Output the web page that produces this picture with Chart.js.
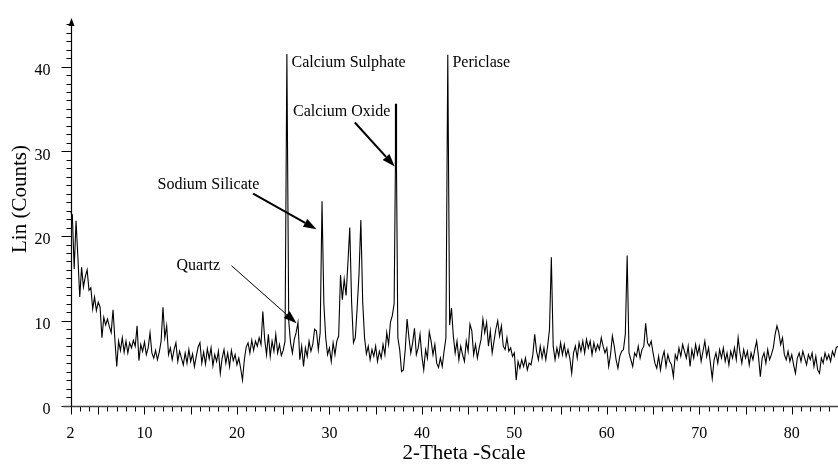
<!DOCTYPE html>
<html>
<head>
<meta charset="utf-8">
<script src="https://cdn.jsdelivr.net/npm/chart.js@4.4.1/dist/chart.umd.min.js"></script>
<style>
html,body{margin:0;padding:0;background:#fff}
#wrap{position:relative;width:838px;height:464px}
</style>
</head>
<body>
<div id="wrap"><canvas id="xrd"></canvas></div>
<script>
// scan grid: 2 to 85 degrees 2-theta, one reading every 0.2 deg
const angleStart = 2;
const angleStep = 0.2;

// counts, one row per degree (x.0, x.2, x.4, x.6, x.8)
const counts = [
  22.8, 22.5, 16.1, 21.8, 17.5,   // 2
  12.8, 16.3, 14.0, 15.2, 16.0,   // 3
  13.6, 13.9, 11.4, 12.8, 11.2,   // 4
  12.2, 11.6, 8.0, 10.4, 9.5,     // 5
  10.2, 9.3, 8.6, 11.3, 7.8,      // 6
  4.6, 7.6, 6.5, 8.0, 6.3,        // 7
  7.6, 6.2, 7.4, 6.8, 7.7,        // 8
  7.0, 9.4, 5.3, 7.2, 6.4,        // 9
  7.5, 6.0, 6.8, 8.6, 6.2,        // 10
  5.6, 6.5, 5.4, 6.3, 7.6,        // 11
  11.6, 8.0, 9.4, 6.0, 6.8,       // 12
  5.4, 6.6, 7.4, 5.2, 6.4,        // 13
  5.6, 4.8, 6.2, 5.0, 6.6,        // 14
  5.2, 6.1, 4.6, 5.8, 6.9,        // 15
  7.4, 5.0, 6.3, 4.9, 6.7,        // 16
  5.5, 6.8, 4.7, 6.0, 5.2,        // 17
  6.4, 3.8, 5.6, 6.6, 5.0,        // 18
  6.2, 4.6, 6.5, 5.3, 6.0,        // 19
  4.8, 5.6, 4.4, 3.0, 5.4,        // 20
  6.9, 7.4, 6.2, 7.7, 6.5,        // 21
  7.6, 7.0, 8.0, 7.2, 11.1,       // 22
  7.8, 6.0, 8.4, 5.8, 7.6,        // 23
  6.4, 8.4, 6.2, 7.2, 5.9,        // 24
  6.5, 7.6, 41.5, 10.0, 7.4,      // 25
  6.2, 7.8, 8.6, 9.8, 5.4,        // 26
  7.0, 4.6, 6.8, 5.8, 7.6,        // 27
  6.4, 7.2, 9.0, 8.8, 6.6,        // 28
  8.6, 24.1, 12.0, 8.0, 6.0,      // 29
  6.8, 5.2, 7.4, 6.0, 7.6,        // 30
  8.2, 15.4, 12.5, 14.9, 13.0,    // 31
  16.8, 21.0, 12.2, 7.4, 8.0,     // 32
  11.5, 15.5, 21.9, 12.2, 8.0,    // 33
  6.1, 7.0, 5.4, 6.6, 5.8,        // 34
  7.0, 5.2, 6.4, 5.6, 7.2,        // 35
  6.0, 8.6, 7.2, 9.8, 10.6,       // 36
  12.0, 35.6, 8.0, 6.6, 4.0,      // 37
  4.2, 6.6, 10.2, 8.0, 6.2,       // 38
  7.4, 9.1, 6.0, 6.8, 8.4,        // 39
  5.8, 4.2, 6.6, 5.6, 8.7,        // 40
  7.6, 6.0, 7.2, 5.0, 4.5,        // 41
  5.6, 4.6, 6.4, 8.0, 41.4,       // 42
  9.5, 11.5, 8.2, 6.2, 7.6,       // 43
  5.4, 7.0, 6.0, 5.2, 7.6,        // 44
  6.4, 9.6, 8.8, 6.0, 7.2,        // 45
  5.6, 6.8, 7.8, 10.2, 8.6,       // 46
  9.8, 7.0, 8.8, 6.2, 7.6,        // 47
  9.0, 10.0, 8.2, 9.4, 7.0,       // 48
  6.6, 8.0, 6.4, 6.8, 5.8,        // 49
  6.2, 3.0, 5.2, 4.4, 5.4,        // 50
  4.6, 5.6, 4.2, 5.0, 4.8,        // 51
  6.0, 8.4, 6.4, 5.4, 7.0,        // 52
  5.6, 6.8, 5.4, 7.0, 9.0,        // 53
  17.5, 7.0, 5.4, 6.8, 5.8,       // 54
  7.4, 6.0, 7.2, 5.8, 6.6,        // 55
  5.6, 3.8, 6.2, 7.0, 5.6,        // 56
  7.4, 6.4, 7.6, 6.2, 7.8,        // 57
  6.8, 7.6, 6.0, 7.4, 6.4,        // 58
  7.2, 6.6, 8.0, 7.0, 6.2,        // 59
  6.8, 4.6, 6.0, 8.2, 7.0,        // 60
  5.4, 4.4, 5.8, 6.4, 6.6,        // 61
  8.4, 17.7, 6.2, 5.4, 4.6,       // 62
  6.2, 5.8, 7.0, 5.6, 6.6,        // 63
  7.0, 9.7, 7.4, 7.0, 7.6,        // 64
  6.2, 5.0, 4.4, 5.8, 4.2,        // 65
  5.6, 6.4, 4.6, 6.0, 5.2,        // 66
  4.8, 3.4, 6.0, 5.4, 6.8,        // 67
  5.8, 7.2, 6.4, 5.6, 7.0,        // 68
  4.6, 6.6, 5.6, 7.2, 6.0,        // 69
  7.0, 5.2, 6.4, 7.6, 5.8,        // 70
  6.8, 5.0, 3.2, 5.4, 6.2,        // 71
  5.0, 6.6, 5.6, 6.8, 5.2,        // 72
  6.2, 4.8, 6.4, 5.6, 6.8,        // 73
  5.4, 8.0, 6.2, 5.0, 6.6,        // 74
  5.6, 6.4, 4.8, 6.2, 5.4,        // 75
  6.6, 7.6, 5.8, 3.4, 5.6,        // 76
  6.2, 5.0, 6.6, 5.4, 6.0,        // 77
  6.8, 8.4, 9.4, 8.6, 7.2,        // 78
  8.0, 6.0, 5.4, 6.4, 5.2,        // 79
  6.0, 4.8, 3.8, 5.6, 6.2,        // 80
  5.2, 6.4, 5.6, 4.8, 6.0,        // 81
  5.4, 6.2, 4.6, 5.8, 4.2,        // 82
  3.8, 5.6, 5.0, 6.2, 5.4,        // 83
  6.0, 5.2, 6.4, 5.8, 6.8,        // 84
  7.0                             // 85
];

const xTickValues = [2, 10, 20, 30, 40, 50, 60, 70, 80];
const yTickValues = [0, 10, 20, 30, 40];

// phase labels, anchored in data units (left edge, middle of text)
const phaseNames = ['Calcium Sulphate', 'Calcium Oxide', 'Periclase', 'Sodium Silicate', 'Quartz'];
const phaseX = [25.9, 26.07, 43.3, 11.41, 13.46];
const phaseY = [40.5, 34.7, 40.5, 26.1, 16.5];

// pointer arrows: from [x, y] to [x, y], in data units
const arrowFrom = [[32.75, 33.4], [21.75, 25.0], [19.41, 16.5]];
const arrowTo   = [[37.07, 28.2], [28.6, 20.8], [26.44, 9.7]];
const arrowWidth = [2, 2, 1];

const points = counts.map((c, i) => ({ x: +(angleStart + i * angleStep).toFixed(1), y: c }));

const SERIF = '"Liberation Serif", "DejaVu Serif", serif';

function drawArrow(ctx, x1, y1, x2, y2, w) {
  const ang = Math.atan2(y2 - y1, x2 - x1);
  const head = 13, half = 4.5;
  const bx = x2 - head * Math.cos(ang), by = y2 - head * Math.sin(ang);
  ctx.lineWidth = w;
  ctx.beginPath(); ctx.moveTo(x1, y1); ctx.lineTo(bx, by); ctx.stroke();
  ctx.beginPath();
  ctx.moveTo(x2, y2);
  ctx.lineTo(bx + half * Math.sin(ang), by - half * Math.cos(ang));
  ctx.lineTo(bx - half * Math.sin(ang), by + half * Math.cos(ang));
  ctx.closePath(); ctx.fill();
}

const decor = {
  id: 'decor',
  afterDraw(chart) {
    const { ctx, chartArea: a, scales: { x, y } } = chart;
    ctx.save();
    ctx.strokeStyle = '#000';
    ctx.fillStyle = '#000';
    ctx.lineWidth = 1;
    const ax = Math.round(a.left) + 0.5;
    const ay = Math.round(a.bottom) + 0.5;

    // y ticks, one per count, long ones at the labels
    for (let v = 0; v <= 45; v++) {
      const py = Math.round(y.getPixelForValue(v)) + 0.5;
      const len = v % 10 === 0 ? 10 : 5;
      ctx.beginPath(); ctx.moveTo(ax - len, py); ctx.lineTo(ax, py); ctx.stroke();
    }
    // x ticks, one per degree, long every 5
    for (let v = 2; v <= 85; v++) {
      const px = Math.round(x.getPixelForValue(v)) + 0.5;
      const len = (v % 5 === 0 || v === 2) ? 8 : 5;
      ctx.beginPath(); ctx.moveTo(px, ay); ctx.lineTo(px, ay + len); ctx.stroke();
    }

    // axis lines
    ctx.strokeStyle = '#444';
    ctx.lineWidth = 1.5;
    ctx.beginPath(); ctx.moveTo(ax - 8, ay); ctx.lineTo(a.right, ay); ctx.stroke();
    ctx.strokeStyle = '#000';
    ctx.lineWidth = 1.2;
    ctx.beginPath(); ctx.moveTo(ax, ay); ctx.lineTo(ax, a.top + 4); ctx.stroke();
    ctx.beginPath();
    ctx.moveTo(ax, a.top - 2);
    ctx.lineTo(ax - 3, a.top + 6);
    ctx.lineTo(ax + 3, a.top + 6);
    ctx.closePath(); ctx.fill();

    // axis titles
    ctx.font = '21px ' + SERIF;
    ctx.textAlign = 'center';
    ctx.textBaseline = 'middle';
    ctx.fillText('2-Theta -Scale', 464, 453);
    ctx.save();
    ctx.translate(20, 199);
    ctx.rotate(-Math.PI / 2);
    ctx.fillText('Lin (Counts)', 0, 0);
    ctx.restore();

    // Calcium Oxide double line
    ctx.lineWidth = 2.2;
    const cx = x.getPixelForValue(37.2);
    ctx.beginPath(); ctx.moveTo(cx, y.getPixelForValue(35.6)); ctx.lineTo(cx, y.getPixelForValue(28.5)); ctx.stroke();

    // phase labels
    ctx.font = '16px ' + SERIF;
    ctx.textAlign = 'left';
    phaseNames.forEach((n, i) => {
      ctx.fillText(n, x.getPixelForValue(phaseX[i]), y.getPixelForValue(phaseY[i]));
    });

    // arrows
    arrowFrom.forEach((f, i) => {
      const t = arrowTo[i];
      drawArrow(ctx, x.getPixelForValue(f[0]), y.getPixelForValue(f[1]),
        x.getPixelForValue(t[0]), y.getPixelForValue(t[1]), arrowWidth[i]);
    });
    ctx.restore();
  }
};

new Chart(document.getElementById('xrd'), {
  type: 'line',
  data: {
    datasets: [{
      data: points,
      borderColor: '#000',
      borderWidth: 1.1,
      pointRadius: 0,
      tension: 0,
      fill: false
    }]
  },
  options: {
    responsive: true,
    maintainAspectRatio: false,
    animation: false,
    devicePixelRatio: 1,
    layout: { padding: { top: 14, right: 0, left: 0, bottom: 0 } },
    plugins: { legend: { display: false }, tooltip: { enabled: false } },
    scales: {
      x: {
        type: 'linear',
        min: 2,
        max: 85,
        grid: { display: false },
        border: { display: false },
        afterBuildTicks: s => { s.ticks = xTickValues.map(v => ({ value: v })); },
        afterFit: s => { s.height = 58.5; },
        ticks: {
          color: '#000',
          padding: 11,
          maxRotation: 0,
          autoSkip: false,
          font: { family: SERIF, size: 16 },
          callback: v => String(v)
        }
      },
      y: {
        min: 0,
        max: 45.5,
        grid: { display: false },
        border: { display: false },
        afterBuildTicks: s => { s.ticks = yTickValues.map(v => ({ value: v })); },
        afterFit: s => { s.width = 70.5; },
        ticks: {
          color: '#000',
          padding: 12,
          autoSkip: false,
          font: { family: SERIF, size: 16, lineHeight: 0.5 },
          callback: v => ['', String(v)]
        }
      }
    }
  },
  plugins: [decor]
});
</script>
</body>
</html>
